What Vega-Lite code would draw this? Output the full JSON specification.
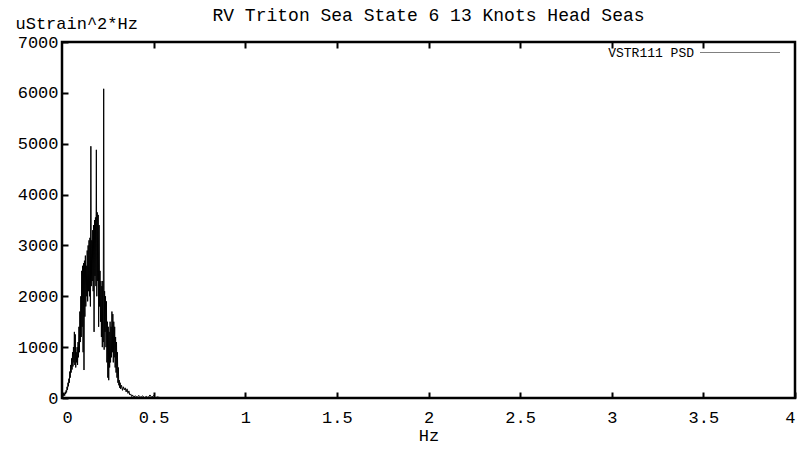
{
  "$schema": "https://vega.github.io/schema/vega-lite/v6.json",
  "width": 733,
  "height": 356,
  "autosize": {"type": "none"},
  "padding": {"left": 62, "top": 42, "right": 2, "bottom": 56},
  "background": "white",
  "config": {
    "view": {"stroke": "black", "strokeWidth": 2.5},
    "font": "Liberation Mono",
    "axis": {"grid": false, "domain": false, "labelFont": "Liberation Mono", "labelFontSize": 17, "labelColor": "black", "tickColor": "black", "tickWidth": 2, "titleFont": "Liberation Mono", "titleFontWeight": "normal", "titleColor": "black", "titleFontSize": 17}
  },
  "title": {"text": "RV Triton Sea State 6 13 Knots Head Seas", "font": "Liberation Mono", "fontSize": 18, "fontWeight": "normal", "color": "black", "anchor": "middle", "offset": 0, "dy": 13},
  "data": {"values": [
    {"hz": 0.000, "psd": 150}, {"hz": 0.0025, "psd": 120}, {"hz": 0.005, "psd": 60}, {"hz": 0.0075, "psd": 100},
    {"hz": 0.010, "psd": 40}, {"hz": 0.0125, "psd": 90}, {"hz": 0.015, "psd": 50}, {"hz": 0.0175, "psd": 120},
    {"hz": 0.020, "psd": 80}, {"hz": 0.0225, "psd": 150}, {"hz": 0.025, "psd": 110}, {"hz": 0.0275, "psd": 220},
    {"hz": 0.030, "psd": 160}, {"hz": 0.0325, "psd": 300}, {"hz": 0.035, "psd": 230}, {"hz": 0.0375, "psd": 380},
    {"hz": 0.040, "psd": 300}, {"hz": 0.0425, "psd": 520}, {"hz": 0.045, "psd": 400}, {"hz": 0.0475, "psd": 650},
    {"hz": 0.050, "psd": 500}, {"hz": 0.0525, "psd": 780}, {"hz": 0.055, "psd": 560}, {"hz": 0.0575, "psd": 900},
    {"hz": 0.060, "psd": 620}, {"hz": 0.0625, "psd": 1000}, {"hz": 0.065, "psd": 700}, {"hz": 0.0675, "psd": 1300},
    {"hz": 0.070, "psd": 650}, {"hz": 0.0725, "psd": 1250}, {"hz": 0.075, "psd": 600}, {"hz": 0.0775, "psd": 900},
    {"hz": 0.080, "psd": 700}, {"hz": 0.0825, "psd": 1000}, {"hz": 0.085, "psd": 650}, {"hz": 0.0875, "psd": 1100},
    {"hz": 0.090, "psd": 800}, {"hz": 0.0925, "psd": 1400}, {"hz": 0.095, "psd": 900}, {"hz": 0.0975, "psd": 1700},
    {"hz": 0.100, "psd": 1100}, {"hz": 0.1025, "psd": 2000}, {"hz": 0.105, "psd": 1200}, {"hz": 0.1075, "psd": 2500},
    {"hz": 0.110, "psd": 1400}, {"hz": 0.1125, "psd": 2600}, {"hz": 0.115, "psd": 900}, {"hz": 0.1175, "psd": 2650},
    {"hz": 0.120, "psd": 550}, {"hz": 0.1225, "psd": 2700}, {"hz": 0.125, "psd": 1600}, {"hz": 0.1275, "psd": 2800},
    {"hz": 0.130, "psd": 1800}, {"hz": 0.1325, "psd": 2600}, {"hz": 0.135, "psd": 2000}, {"hz": 0.1375, "psd": 2900},
    {"hz": 0.140, "psd": 1900}, {"hz": 0.1425, "psd": 3000}, {"hz": 0.145, "psd": 2100}, {"hz": 0.1475, "psd": 3100},
    {"hz": 0.150, "psd": 2000}, {"hz": 0.1525, "psd": 3150}, {"hz": 0.155, "psd": 1800}, {"hz": 0.1575, "psd": 4950},
    {"hz": 0.160, "psd": 2200}, {"hz": 0.1625, "psd": 3100}, {"hz": 0.165, "psd": 2300}, {"hz": 0.1675, "psd": 3300},
    {"hz": 0.170, "psd": 2100}, {"hz": 0.1725, "psd": 3400}, {"hz": 0.175, "psd": 1300}, {"hz": 0.1775, "psd": 3500},
    {"hz": 0.180, "psd": 2400}, {"hz": 0.1825, "psd": 3550}, {"hz": 0.185, "psd": 2200}, {"hz": 0.1875, "psd": 4880},
    {"hz": 0.190, "psd": 2000}, {"hz": 0.1925, "psd": 3650}, {"hz": 0.195, "psd": 2300}, {"hz": 0.1975, "psd": 3600},
    {"hz": 0.200, "psd": 1400}, {"hz": 0.2025, "psd": 3400}, {"hz": 0.205, "psd": 1800}, {"hz": 0.2075, "psd": 2500},
    {"hz": 0.210, "psd": 1500}, {"hz": 0.2125, "psd": 2300}, {"hz": 0.215, "psd": 1200}, {"hz": 0.2175, "psd": 2200},
    {"hz": 0.220, "psd": 1000}, {"hz": 0.2225, "psd": 2300}, {"hz": 0.225, "psd": 1100}, {"hz": 0.2275, "psd": 6080},
    {"hz": 0.230, "psd": 950}, {"hz": 0.2325, "psd": 2100}, {"hz": 0.235, "psd": 1300}, {"hz": 0.2375, "psd": 2000},
    {"hz": 0.240, "psd": 1000}, {"hz": 0.2425, "psd": 1900}, {"hz": 0.245, "psd": 700}, {"hz": 0.2475, "psd": 1500},
    {"hz": 0.250, "psd": 400}, {"hz": 0.2525, "psd": 1400}, {"hz": 0.255, "psd": 350}, {"hz": 0.2575, "psd": 1300},
    {"hz": 0.260, "psd": 600}, {"hz": 0.2625, "psd": 1500}, {"hz": 0.265, "psd": 700}, {"hz": 0.2675, "psd": 1400},
    {"hz": 0.270, "psd": 800}, {"hz": 0.2725, "psd": 1700}, {"hz": 0.275, "psd": 900}, {"hz": 0.2775, "psd": 1650},
    {"hz": 0.280, "psd": 700}, {"hz": 0.2825, "psd": 1500}, {"hz": 0.285, "psd": 800}, {"hz": 0.2875, "psd": 1400},
    {"hz": 0.290, "psd": 600}, {"hz": 0.2925, "psd": 1200}, {"hz": 0.295, "psd": 500}, {"hz": 0.2975, "psd": 1100},
    {"hz": 0.300, "psd": 400}, {"hz": 0.3025, "psd": 900}, {"hz": 0.305, "psd": 300}, {"hz": 0.3075, "psd": 600},
    {"hz": 0.310, "psd": 250}, {"hz": 0.3125, "psd": 350}, {"hz": 0.315, "psd": 200}, {"hz": 0.3175, "psd": 300},
    {"hz": 0.320, "psd": 180}, {"hz": 0.325, "psd": 250}, {"hz": 0.330, "psd": 150}, {"hz": 0.335, "psd": 220},
    {"hz": 0.340, "psd": 160}, {"hz": 0.345, "psd": 200}, {"hz": 0.350, "psd": 120}, {"hz": 0.355, "psd": 180},
    {"hz": 0.360, "psd": 90}, {"hz": 0.365, "psd": 140}, {"hz": 0.370, "psd": 60}, {"hz": 0.375, "psd": 80},
    {"hz": 0.380, "psd": 30}, {"hz": 0.385, "psd": 60}, {"hz": 0.390, "psd": 20}, {"hz": 0.400, "psd": 40},
    {"hz": 0.410, "psd": 15}, {"hz": 0.420, "psd": 50}, {"hz": 0.430, "psd": 10}, {"hz": 0.440, "psd": 40},
    {"hz": 0.450, "psd": 5}, {"hz": 0.460, "psd": 30}, {"hz": 0.470, "psd": 5}, {"hz": 0.480, "psd": 60},
    {"hz": 0.490, "psd": 10}, {"hz": 0.500, "psd": 50}, {"hz": 0.510, "psd": 5}, {"hz": 0.520, "psd": 20},
    {"hz": 0.540, "psd": 5}, {"hz": 0.600, "psd": 3}, {"hz": 0.700, "psd": 2}, {"hz": 1.0, "psd": 2},
    {"hz": 1.5, "psd": 1}, {"hz": 2.0, "psd": 1}, {"hz": 2.5, "psd": 1}, {"hz": 3.0, "psd": 1},
    {"hz": 3.5, "psd": 1}, {"hz": 4.0, "psd": 1}
  ]},
  "layer": [
    {
      "mark": {"type": "line", "strokeWidth": 1, "clip": true},
      "encoding": {
        "x": {"field": "hz", "type": "quantitative", "scale": {"domain": [0, 4], "nice": false},
              "axis": {"values": [0, 0.5, 1, 1.5, 2, 2.5, 3, 3.5, 4], "format": "~g", "tickSize": -6, "labelPadding": 17, "title": "Hz", "titlePadding": 2}},
        "y": {"field": "psd", "type": "quantitative", "scale": {"domain": [0, 7000], "nice": false},
              "axis": {"values": [0, 1000, 2000, 3000, 4000, 5000, 6000, 7000], "format": "d", "tickSize": -6, "labelPadding": 10,
                       "title": "uStrain^2*Hz", "titleAngle": 0, "titleAlign": "left", "titleBaseline": "middle", "titleX": -47, "titleY": -19}},
        "color": {"datum": "VSTR111 PSD", "scale": {"range": ["black"]},
                  "legend": {"title": null, "orient": "none", "legendX": 638, "legendY": -30, "symbolType": "stroke", "symbolSize": 6400, "symbolStrokeWidth": 1, "symbolStrokeColor": "#777", "symbolDash": [1, 1], "labelAlign": "right", "labelOffset": -87, "labelFont": "Liberation Mono", "labelFontSize": 13, "labelColor": "black"}}
      }
    },
    {
      "mark": {"type": "line", "strokeOpacity": 0},
      "encoding": {
        "x": {"field": "hz", "type": "quantitative", "axis": {"orient": "top", "values": [0.5, 1, 1.5, 2, 2.5, 3, 3.5], "labels": false, "tickSize": -6, "title": null}},
        "y": {"field": "psd", "type": "quantitative"}
      }
    }
  ],
  "resolve": {"axis": {"x": "independent"}}
}
